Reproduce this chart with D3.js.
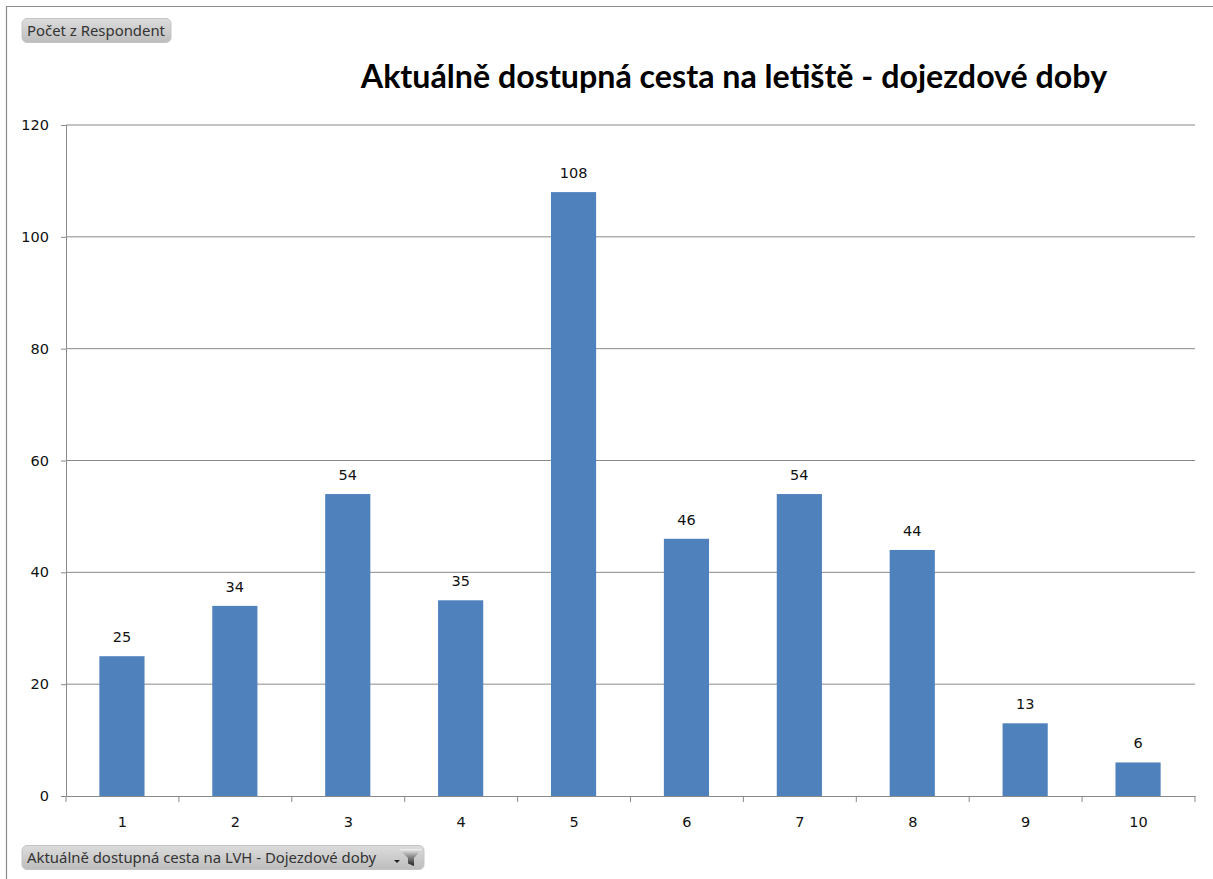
<!DOCTYPE html>
<html lang="en">
	<head>
		<meta charset="utf-8">
		<title>Aktuálně dostupná cesta na letiště - dojezdové doby</title>
		<script src="https://cdn.jsdelivr.net/npm/d3@7"></script>
		<style>
			html, body { margin: 0; padding: 0; background: #fff; }
			svg { display: block; }
			text { font-family: "DejaVu Sans", sans-serif; fill: #111; }
			.axis text { font-family: "DejaVu Sans", sans-serif; font-size: 14.5px; fill: #111; }
			.label { font-size: 14.5px; text-anchor: middle; }
			.title { font-family: "Lato", sans-serif; font-size: 32.2px; font-weight: 700; fill: #000; }
			.btn-text { font-family: "Noto Sans", sans-serif; font-size: 14.9px; fill: #333; }
		</style>
	</head>
	<body>
		<script>
			var categories = ["1", "2", "3", "4", "5", "6", "7", "8", "9", "10"];
			var counts = [25, 34, 54, 35, 108, 46, 54, 44, 13, 6];
			var yTicks = [0, 20, 40, 60, 80, 100, 120];

			var chartTitle = "Aktuálně dostupná cesta na letiště - dojezdové doby";
			var valueButton = "Počet z Respondent";
			var filterButton = "Aktuálně dostupná cesta na LVH - Dojezdové doby";

			//Width and height
			var w = 1213;
			var h = 879;
			var plotLeft = 66, plotRight = 1195, plotTop = 125, plotBottom = 796;

			var svg = d3.select("body").append("svg")
				.attr("width", w)
				.attr("height", h);

			var defs = svg.append("defs");
			var grad = defs.append("linearGradient")
				.attr("id", "btn")
				.attr("x1", 0).attr("x2", 0).attr("y1", 0).attr("y2", 1);
			grad.append("stop").attr("offset", "0%").attr("stop-color", "#dcdcdc");
			grad.append("stop").attr("offset", "100%").attr("stop-color", "#bdbdbd");

			// funnel goes from pale at the rim to dark at the stem
			var funnelGrad = defs.append("linearGradient")
				.attr("id", "funnel")
				.attr("x1", 0).attr("x2", 0).attr("y1", 0).attr("y2", 1);
			funnelGrad.append("stop").attr("offset", "0%").attr("stop-color", "#f2f2f2");
			funnelGrad.append("stop").attr("offset", "45%").attr("stop-color", "#8a8a8a");
			funnelGrad.append("stop").attr("offset", "100%").attr("stop-color", "#222");

			// outer frame, only top and left are visible in the picture
			svg.append("path")
				.attr("d", d3.line()([[6.5, h], [6.5, 6.5], [w, 6.5]]))
				.attr("fill", "none")
				.attr("stroke", "#8c8c8c")
				.attr("stroke-width", 1.2);

			var xScale = d3.scaleBand()
				.domain(categories)
				.range([plotLeft, plotRight])
				.paddingInner(0.6)
				.paddingOuter(0.3);

			var yScale = d3.scaleLinear()
				.domain([0, 120])
				.range([plotBottom, plotTop]);

			// gridlines
			svg.append("g")
				.selectAll("line")
				.data(yTicks.filter(function(d) { return d > 0; }))
				.enter()
				.append("line")
				.attr("x1", plotLeft)
				.attr("x2", plotRight)
				.attr("y1", function(d) { return yScale(d); })
				.attr("y2", function(d) { return yScale(d); })
				.attr("stroke", "#8a8a8a")
				.attr("stroke-width", 1);

			// bars
			svg.append("g")
				.attr("transform", "translate(-0.5,0)")
				.selectAll("rect")
				.data(counts)
				.enter()
				.append("rect")
				.attr("x", function(d, i) { return xScale(categories[i]); })
				.attr("y", function(d) { return yScale(d); })
				.attr("width", xScale.bandwidth())
				.attr("height", function(d) { return plotBottom - yScale(d); })
				.attr("fill", "#4f81bd");

			// value labels
			svg.append("g")
				.selectAll("text")
				.data(counts)
				.enter()
				.append("text")
				.attr("class", "label")
				.attr("x", function(d, i) { return xScale(categories[i]) + xScale.bandwidth() / 2 - 0.5; })
				.attr("y", function(d) { return yScale(d) - 14; })
				.text(function(d) { return d; });

			// axes
			var yAxis = d3.axisLeft(yScale).tickValues(yTicks).tickSize(5).tickPadding(12);
			var gy = svg.append("g")
				.attr("class", "axis")
				.attr("transform", "translate(" + plotLeft + ",0)")
				.call(yAxis);

			var xAxis = d3.axisBottom(xScale).tickSize(0).tickPadding(21);
			var gx = svg.append("g")
				.attr("class", "axis")
				.attr("transform", "translate(0," + plotBottom + ")")
				.call(xAxis);

			// tick marks sit between the categories
			var step = xScale.step();
			gx.selectAll(".sep")
				.data(d3.range(categories.length + 1))
				.enter()
				.append("line")
				.attr("class", "sep")
				.attr("x1", function(d) { return plotLeft + d * step; })
				.attr("x2", function(d) { return plotLeft + d * step; })
				.attr("y1", 0)
				.attr("y2", 6);

			svg.selectAll(".axis .domain, .axis line")
				.attr("stroke", "#8a8a8a");

			// title
			svg.append("text")
				.attr("class", "title")
				.attr("x", 734)
				.attr("y", 88)
				.attr("text-anchor", "middle")
				.text(chartTitle);

			// pivot field buttons
			function button(x, y, bw, bh, label) {
				svg.append("rect")
					.attr("x", x).attr("y", y)
					.attr("width", bw).attr("height", bh)
					.attr("rx", 5)
					.attr("fill", "url(#btn)")
					.attr("stroke", "#c4c4c4");
				svg.append("text")
					.attr("class", "btn-text")
					.attr("x", x + 5)
					.attr("y", y + bh / 2 + 5)
					.text(label);
			}
			button(22, 18.5, 149, 24, valueButton);
			button(22, 845.5, 402, 24, filterButton);

			// dropdown arrow + funnel on the filter button
			svg.append("path")
				.attr("d", "M394 860h6l-3 3z")
				.attr("fill", "#222");
			svg.append("path")
				.attr("d", "M399 849h23l-8 9v8l-6-2.5v-5.5z")
				.attr("fill", "url(#funnel)");
		</script>
	</body>
</html>
